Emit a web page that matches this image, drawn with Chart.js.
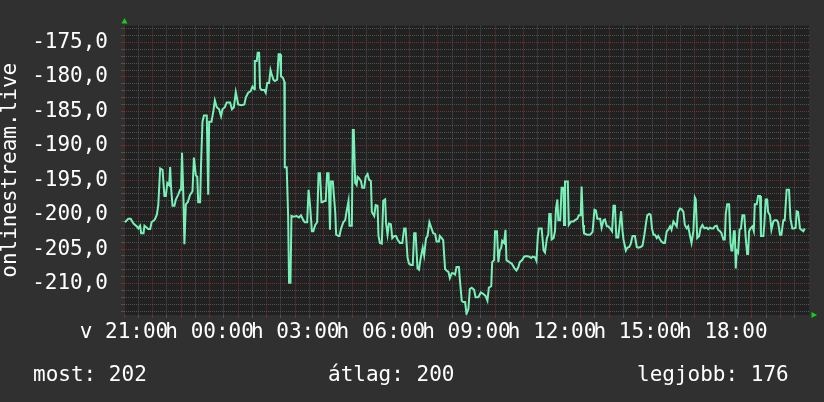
<!DOCTYPE html>
<html><head><meta charset="utf-8">
<script src="https://cdn.jsdelivr.net/npm/chart.js@4/dist/chart.umd.min.js"></script>
<style>
html,body{margin:0;padding:0;background:#303030;}
#wrap{position:relative;width:824px;height:402px;overflow:hidden;background:#303030;}
canvas{position:absolute;left:0;top:0;}
.stat{position:absolute;top:364px;font-family:"DejaVu Sans Mono",monospace;font-size:21px;line-height:21px;color:#ffffff;white-space:pre;}
</style></head><body>
<div id="wrap"><canvas id="c" width="824" height="402"></canvas></div>
<script>
// minutes since Sunday 21:00
const minutes = [
2,9,14,20,27,30,34,36,41,43,48,51,55,58,65,69,72,76,81,85,88,91,95,97,99,102,106,109,114,118,120,122,125,127,130,134,139,144,147,151,154,156,160,162,165,168,174,177,179,184,188,191,195,200,204,207,212,216,223,227,231,235,
240,247,253,256,261,266,270,274,275,279,281,284,286,289,295,298,301,305,308,310,314,317,322,325,328,330,334,337,338,342,345,347,350,352,356,363,368,372,377,380,385,388,391,395,398,402,406,409,412,415,417,421,424,427,430,433,435,439,444,446,451,453,456,461,465,468,472,474,479,481,483,486,
489,491,494,498,501,505,508,512,515,519,521,526,529,533,535,538,542,545,549,551,554,557,561,564,568,572,575,580,585,589,592,596,599,603,607,610,613,617,620,624,628,631,635,638,642,645,650,654,657,662,664,668,671,675,678,682,685,689,692,696,699,704,706,710,713,717,
720,724,727,731,736,739,745,750,755,760,764,767,772,774,778,780,784,787,790,793,795,799,802,804,810,815,821,825,829,832,837,841,846,852,856,859,864,867,870,872,878,882,885,889,892,894,897,899,903,906,908,911,913,917,920,924,925,927,933,935,940,945,948,953,956,960,962,965,967,
973,980,985,989,992,995,1001,1004,1008,1011,1015,1018,1022,1026,1029,1032,1035,1039,1043,1045,1048,1050,1055,1058,1062,1065,1069,1074,1078,1081,1086,1090,1094,1097,1100,1104,1107,1110,1113,1116,1120,1123,1127,1130,1134,1137,1141,1144,1148,1151,1155,1158,1162,1165,1169,1172,1176,1179,1183,1186,1190,1193,1197,1200,1202,1205,
1209,1212,1216,1220,1225,1228,1232,1235,1239,1242,1246,1249,1253,1256,1260,1263,1265,1268,1272,1275,1277,1279,1282,1284,1286,1288,1291,1294,1297,1300,1304,1307,1310,1312,1314,1317,1321,1324,1326,1330,1333,1337,1339,1344,1346,1349,1352,1354,1358,1361,1365,1368,1372,1375,1379,1382,1386,1389,1393,1398,1401,1405,1408,1412,1414,1417,1421,1424,1428,1431
];
const values = [
-201.1,-200.6,-200.6,-201.3,-201.7,-202.0,-201.6,-202.7,-202.7,-201.6,-201.9,-202.1,-202.1,-201.1,-200.7,-200.0,-198.7,-193.3,-193.5,-197.3,-197.3,-195.4,-195.7,-193.1,-196.1,-198.7,-198.7,-197.8,-197.1,-196.4,-196.4,-191.0,-197.8,-204.3,-198.5,-198.2,-197.1,-196.6,-191.7,-194.3,-194.5,-198.2,-198.2,-192.6,-186.5,-185.6,-185.6,-197.1,-186.5,-186.5,-184.9,-183.4,-184.4,-184.7,-185.7,-184.7,-184.4,-183.7,-183.7,-184.7,-184.4,-182.2,
-184.0,-184.1,-184.0,-183.0,-182.3,-182.1,-181.4,-181.8,-177.7,-177.7,-176.5,-176.5,-181.6,-181.9,-181.9,-182.3,-180.9,-180.9,-179.0,-179.5,-180.4,-180.6,-180.4,-176.7,-176.7,-179.9,-180.1,-180.7,-193.1,-193.1,-200.1,-209.9,-209.9,-200.2,-200.3,-200.2,-200.4,-200.1,-200.8,-201.1,-201.1,-196.4,-198.5,-202.4,-202.4,-201.5,-201.1,-194.0,-194.0,-198.2,-198.2,-198.0,-198.0,-194.0,-194.0,-202.2,-195.2,-195.2,-199.6,-202.9,-203.1,-203.1,-202.1,-201.1,-200.8,-199.5,-198.0,-201.6,-201.6,-187.7,-187.7,-195.4,
-195.7,-194.5,-194.7,-195.1,-196.1,-196.1,-194.5,-194.1,-194.9,-195.1,-199.6,-200.2,-198.6,-198.7,-203.1,-204.1,-204.2,-198.0,-197.8,-201.3,-202.9,-201.3,-201.4,-203.4,-203.1,-203.1,-203.6,-204.1,-204.1,-202.0,-202.0,-206.2,-207.1,-207.3,-207.3,-202.7,-202.7,-207.8,-208.0,-206.2,-204.8,-205.9,-203.4,-203.1,-201.1,-201.7,-202.7,-202.8,-203.9,-203.9,-203.1,-203.4,-203.7,-207.9,-208.1,-208.3,-209.2,-208.5,-208.5,-208.7,-207.6,-207.6,-209.4,-212.5,-212.7,-212.7,
-214.4,-213.7,-210.8,-210.6,-210.9,-212.0,-212.0,-211.3,-211.5,-211.8,-212.5,-210.6,-210.4,-206.9,-206.6,-202.4,-202.4,-206.9,-205.2,-204.8,-203.8,-204.1,-202.2,-206.6,-206.9,-207.1,-207.8,-208.1,-207.6,-206.9,-206.6,-206.1,-206.0,-206.1,-206.3,-206.1,-206.2,-206.7,-203.1,-202.0,-202.0,-205.2,-205.5,-203.4,-202.9,-199.9,-199.9,-203.6,-203.4,-202.4,-199.2,-197.8,-200.8,-200.8,-196.1,-196.1,-201.5,-195.2,-195.2,-201.5,-201.0,-201.0,-200.8,-200.6,-200.1,-200.1,-195.9,-201.5,-202.7,
-202.9,-202.9,-202.5,-199.3,-199.4,-200.6,-200.6,-201.9,-200.8,-200.7,-201.7,-201.7,-202.0,-202.4,-198.7,-198.7,-203.3,-203.3,-200.8,-199.5,-202.4,-203.6,-205.2,-204.8,-204.7,-204.3,-203.1,-203.1,-204.7,-204.8,-204.7,-204.5,-202.9,-201.4,-200.1,-199.9,-200.0,-202.0,-202.9,-202.9,-203.4,-203.1,-203.6,-203.9,-204.1,-204.1,-202.4,-202.2,-201.7,-202.2,-201.0,-201.3,-201.7,-199.6,-199.1,-199.2,-199.6,-201.5,-202.0,-201.7,-203.1,-204.1,-202.4,-197.5,-197.8,-203.4,
-203.1,-202.0,-201.5,-202.0,-201.9,-202.1,-201.9,-202.0,-202.0,-201.7,-201.6,-202.2,-202.4,-202.7,-203.6,-203.6,-199.9,-198.5,-198.5,-204.1,-205.2,-205.2,-202.4,-202.4,-207.8,-205.2,-205.5,-202.2,-202.0,-200.1,-200.1,-203.4,-205.7,-205.7,-202.4,-202.0,-201.7,-202.4,-198.5,-198.5,-197.3,-197.3,-203.1,-203.1,-201.5,-197.8,-197.8,-199.6,-200.1,-202.2,-201.0,-200.8,-200.8,-201.1,-202.9,-202.9,-200.8,-200.8,-196.4,-196.4,-200.6,-202.0,-202.0,-201.9,-199.5,-199.6,-202.0,-202.2,-202.4,-202.0
];
const xTickMinutes = [0,180,360,540,720,900,1080,1260];
const xTickLabels = ['v 21:00','h 00:00','h 03:00','h 06:00','h 09:00','h 12:00','h 15:00','h 18:00'];
const seriesLabel = 'onlinestream.live';
const statLabels = ['most','átlag','legjobb'];
const statValues = [202,200,176];
const yRange = [-214.57,-172.55];
const xRange = [0,1440];

const FONT = {family:"'DejaVu Sans Mono', monospace", size:21, lineHeight:1.2};
const RED = '#763232', GRAY = '#525252';

const bgPlugin = {
  id:'bg',
  beforeDraw(chart){
    const {ctx, chartArea:a} = chart;
    ctx.save();
    ctx.fillStyle = '#303030';
    ctx.fillRect(0,0,chart.width,chart.height);
    ctx.fillStyle = '#212121';
    ctx.fillRect(a.left,a.top,a.right-a.left,a.bottom-a.top);
    ctx.restore();
  }
};
const arrowPlugin = {
  id:'arrows',
  afterDraw(chart){
    const {ctx, chartArea:a} = chart;
    ctx.save();
    ctx.fillStyle = '#12d012';
    ctx.beginPath();
    ctx.moveTo(a.left-2.5, a.top-2);
    ctx.lineTo(a.left+3.5, a.top-2);
    ctx.lineTo(a.left+0.5, a.top-7.5);
    ctx.closePath(); ctx.fill();
    ctx.beginPath();
    ctx.moveTo(a.right+2.5, a.bottom-3);
    ctx.lineTo(a.right+2.5, a.bottom+3);
    ctx.lineTo(a.right+8, a.bottom);
    ctx.closePath(); ctx.fill();
    ctx.restore();
  }
};

const isMajorX = c => c.tick && c.tick.value % 60 === 0;
const isMajorY = c => c.tick && Math.round(c.tick.value) % 5 === 0;

new Chart(document.getElementById('c'), {
  type:'line',
  data:{datasets:[{
    label:seriesLabel,
    data:minutes.map((m,i)=>({x:m,y:values[i]})),
    borderColor:'#78f0b8', borderWidth:2, pointRadius:0, tension:0, fill:false
  }]},
  options:{
    responsive:false, animation:false, devicePixelRatio:1,
    layout:{padding:{left:0,top:15,right:15,bottom:0}},
    plugins:{legend:{display:false}, tooltip:{enabled:false}},
    scales:{
      x:{
        type:'linear', min:xRange[0], max:xRange[1],
        afterBuildTicks:s=>{ const t=[]; for(let m=xRange[0]; m<xRange[1]; m+=30) t.push({value:m}); s.ticks=t; },
        afterFit:s=>{ s.height = 87; },
        grid:{color:c=>isMajorX(c)?RED:GRAY, tickColor:c=>isMajorX(c)?RED:GRAY, lineWidth:1, drawTicks:true, tickLength:3},
        border:{display:false, dash:[1,1]},
        ticks:{autoSkip:false, maxRotation:0, minRotation:0, padding:2, color:'#ffffff', font:FONT,
          callback:v=>{ const i = xTickMinutes.indexOf(v); return i>=0 ? xTickLabels[i] : ''; }}
      },
      y:{
        type:'linear', min:yRange[0], max:yRange[1],
        afterBuildTicks:s=>{ const t=[]; for(let v=Math.ceil(yRange[0]); v<=Math.floor(yRange[1]); v++) t.push({value:v}); s.ticks=t; },
        afterFit:s=>{ s.width = 124; },
        grid:{color:c=>isMajorY(c)?RED:GRAY, tickColor:c=>isMajorY(c)?RED:GRAY, lineWidth:1, drawTicks:true, tickLength:3},
        border:{display:false, dash:[1,1]},
        ticks:{autoSkip:false, color:'#ffffff', font:FONT, padding:13,
          callback:v=> (Math.round(v)%5===0) ? v.toFixed(1).replace('.',',') : ''},
        title:{display:true, text:seriesLabel, color:'#ffffff', font:{family:FONT.family, size:21, lineHeight:1}, padding:0}
      }
    }
  },
  plugins:[bgPlugin, arrowPlugin]
});

const statLefts = [33, 328, 637];
const wrap = document.getElementById('wrap');
statLabels.forEach((l,i)=>{
  const s = document.createElement('span');
  s.className = 'stat';
  s.style.left = statLefts[i] + 'px';
  s.textContent = l + ': ' + statValues[i];
  wrap.appendChild(s);
});
</script>
</body></html>
